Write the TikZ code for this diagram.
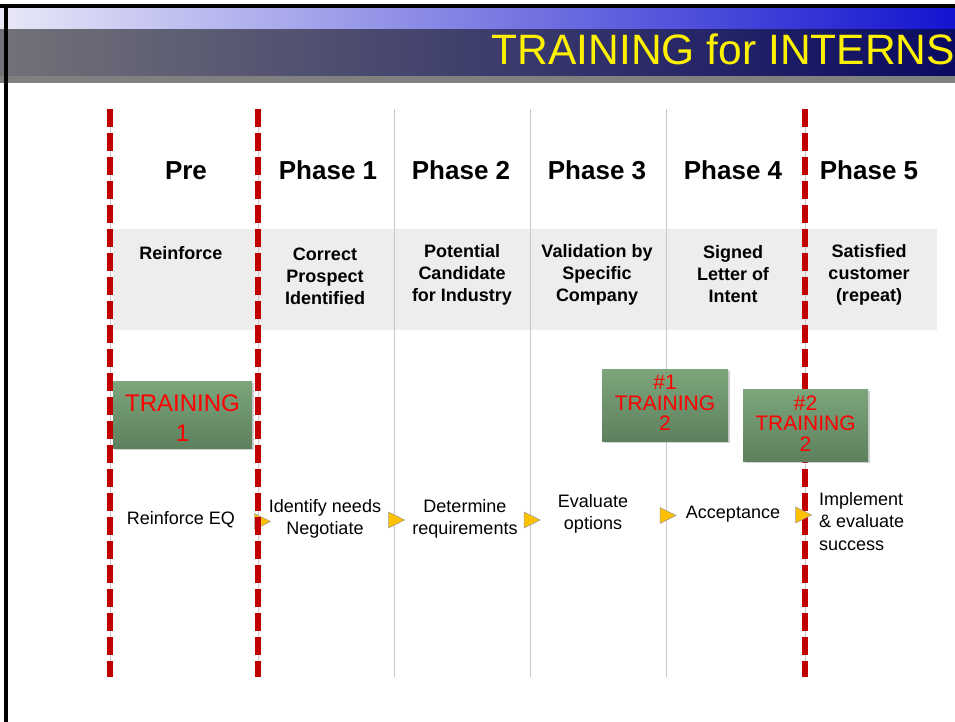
\documentclass[tikz,border=0pt]{standalone}
\usepackage{fontspec}
\setmainfont{Liberation Sans}
\usetikzlibrary{shapes.geometric,shadows}
\definecolor{redline}{HTML}{C00000}
\definecolor{gridgray}{HTML}{C8C8C8}
\definecolor{bandgray}{HTML}{EDEDED}
\definecolor{greentop}{HTML}{7CA67C}
\definecolor{greenbot}{HTML}{5E805E}
\definecolor{arrowyel}{HTML}{FFC000}
\definecolor{hdrlight}{HTML}{E8E8F8}
\definecolor{hdrblue}{HTML}{1414D0}
\definecolor{hdrgray}{HTML}{727278}
\definecolor{hdrnavy}{HTML}{0A0A62}
\definecolor{hdrstrip}{HTML}{808080}
\begin{document}
\begin{tikzpicture}[x=1pt,y=-1pt,
  phase/.style={font=\fontsize{26}{30}\selectfont\bfseries, anchor=base, inner sep=0pt},
  subtitle/.style={font=\fontsize{18}{22}\selectfont\bfseries, align=center, inner sep=0pt},
  steptext/.style={font=\fontsize{18}{22.5}\selectfont, align=center, inner sep=0pt},
  trainbox/.style={rectangle, top color=greentop, bottom color=greenbot, draw=none,
     text=red, align=center, inner sep=0pt,
     drop shadow={opacity=0.35, shadow xshift=2pt, shadow yshift=-2pt}},
  tri/.style={isosceles triangle, isosceles triangle stretches, shape border rotate=0,
     minimum width=16pt, minimum height=16pt, inner sep=0pt,
     fill=arrowyel, draw=gray!80, line width=0.6pt},
  gridline/.style={draw=gridgray, line width=0.8pt},
  redline/.style={draw=redline, line width=5.5pt, dash pattern=on 18pt off 6pt}
]
\useasboundingbox (0,0) rectangle (955,722);
\fill[white] (0,0) rectangle (955,722);
% header
\shade[left color=hdrlight, right color=hdrblue] (0,8) rectangle (955,30);
\shade[left color=hdrgray, right color=hdrnavy] (0,30) rectangle (955,76.5);
\fill[hdrstrip] (0,76.5) rectangle (955,83);
\fill[black] (0,4.5) rectangle (955,8);
\fill[black] (4,4.5) rectangle (7.5,722);
\node[anchor=base east, inner sep=0pt, text=yellow, font=\fontsize{42.5}{42.5}\selectfont] (title) at (955,65) {TRAINING for INTERNS};
% band
\fill[bandgray] (113,229) rectangle (937,330);
% coordinates for lines
\foreach \n/\x in {l0/110, l1/258, l2/394, l3/530, l4/666, l5/805} {
  \coordinate (\n top) at (\x,109);
  \coordinate (\n bot) at (\x,677);
}
\foreach \n in {l0,l1,l2,l3,l4,l5} { \draw[gridline] (\n top) -- (\n bot); }
% phase headers
\node[phase] (pre) at (186,179) {Pre};
\node[phase] (ph1) at (328,179) {Phase 1};
\node[phase] (ph2) at (461,179) {Phase 2};
\node[phase] (ph3) at (597,179) {Phase 3};
\node[phase] (ph4) at (733,179) {Phase 4};
\node[phase] (ph5) at (869,179) {Phase 5};
% subtitles
\node[subtitle] (s0) at (181,253) {Reinforce};
\node[subtitle] (s1) at (325,276) {Correct\\Prospect\\Identified};
\node[subtitle] (s2) at (462,274.5) {Potential\\Candidate\\for Industry};
\node[subtitle] (s3) at (597,274.5) {Validation by\\Specific\\Company};
\node[subtitle] (s4) at (733,274.5) {Signed\\Letter of\\Intent};
\node[subtitle] (s5) at (869,274.5) {Satisfied\\customer\\(repeat)};
% training box 1 (below red lines)
\node[trainbox, minimum width=139pt, minimum height=67pt] (t1) at (182.5,414.5) {};
\node[text=red, align=center, inner sep=0pt, font=\fontsize{24}{30}\selectfont] (t1txt) at (182.5,418) {TRAINING\\1};
% arrows
\node[tri] (a1) at (259.5,521.5) {};
\node[tri] (a2) at (393.5,520) {};
\node[tri] (a3) at (529,520) {};
\node[tri] (a4) at (665,515.5) {};
% red dashed lines
\draw[redline] (l0top) -- (l0bot);
\draw[redline] (l1top) -- (l1bot);
\draw[redline] (l5top) -- (l5bot);
\node[tri] (a5) at (800.5,515) {};
% training boxes 2 and 3 (above lines)
\node[trainbox, minimum width=126pt, minimum height=72pt] (t2) at (665,405) {};
\node[text=red, align=center, inner sep=0pt, font=\fontsize{21}{20.5}\selectfont] (t2txt) at (665,403) {\#1\\TRAINING\\2};
\node[trainbox, minimum width=125pt, minimum height=72pt] (t3) at (805.5,425) {};
\node[text=red, align=center, inner sep=0pt, font=\fontsize{21}{20.5}\selectfont] (t3txt) at (805.5,423.5) {\#2\\TRAINING\\2};
% step texts
\node[steptext] (e0) at (181,519.5) {Reinforce EQ};
\node[steptext] (e1) at (325,519) {Identify needs\\Negotiate};
\node[steptext] (e2) at (465,519) {Determine\\requirements};
\node[steptext] (e3) at (593,514) {Evaluate\\options};
\node[steptext] (e4) at (733,514.5) {Acceptance};
\node[steptext, align=left, anchor=west] (e5) at (819,521.5) {Implement\\\& evaluate\\success};
\end{tikzpicture}
\end{document}
